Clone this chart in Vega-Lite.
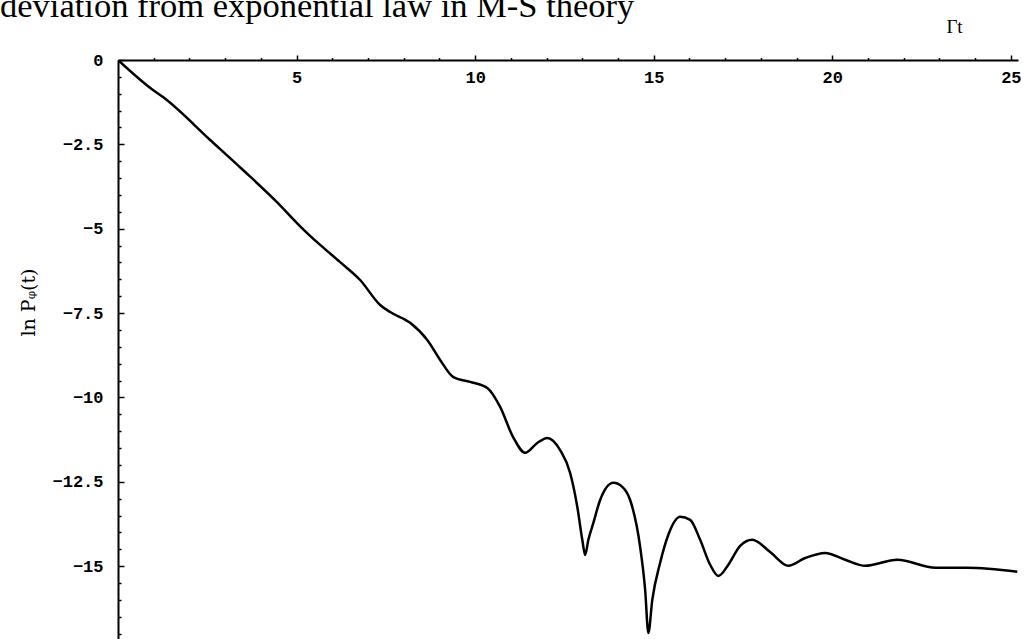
{
  "$schema": "https://vega.github.io/schema/vega-lite/v6.json",
  "width": 900,
  "height": 579,
  "autosize": {"type": "none"},
  "padding": {"left": 118, "top": 60, "right": 14, "bottom": 0},
  "background": "white",
  "title": {
    "text": "deviation from exponential law in M-S theory",
    "anchor": "start",
    "frame": "group",
    "dx": -118,
    "dy": 34,
    "offset": 0,
    "baseline": "alphabetic",
    "font": "Liberation Serif",
    "fontSize": 34.5,
    "fontWeight": "normal",
    "color": "black"
  },
  "config": {
    "view": {"stroke": null},
    "axis": {
      "grid": false,
      "domainColor": "black",
      "domainWidth": 2,
      "tickColor": "black",
      "tickWidth": 1.5,
      "labelColor": "black",
      "labelFont": "Liberation Mono",
      "labelFontWeight": "bold",
      "labelFontSize": 17,
      "labelOverlap": false,
      "titleColor": "black"
    }
  },
  "data": {
    "values": [
      {"t": 0, "y": 0},
      {"t": 0.98, "y": -0.89},
      {"t": 1.26, "y": -1.1},
      {"t": 2.58, "y": -2.37},
      {"t": 3.5, "y": -3.26},
      {"t": 4.45, "y": -4.21},
      {"t": 5.15, "y": -4.98},
      {"t": 5.66, "y": -5.48},
      {"t": 6.22, "y": -5.99},
      {"t": 6.78, "y": -6.52},
      {"t": 7.34, "y": -7.26},
      {"t": 7.62, "y": -7.47},
      {"t": 8.18, "y": -7.79},
      {"t": 8.66, "y": -8.3},
      {"t": 9.02, "y": -8.89},
      {"t": 9.38, "y": -9.39},
      {"t": 9.86, "y": -9.54},
      {"t": 10.34, "y": -9.72},
      {"t": 10.7, "y": -10.28},
      {"t": 11.06, "y": -11.17},
      {"t": 11.4, "y": -11.64},
      {"t": 11.74, "y": -11.35},
      {"t": 12.02, "y": -11.2},
      {"t": 12.38, "y": -11.56},
      {"t": 12.66, "y": -12.24},
      {"t": 12.86, "y": -13.24},
      {"t": 13.0, "y": -14.22},
      {"t": 13.08, "y": -14.67},
      {"t": 13.17, "y": -14.22},
      {"t": 13.31, "y": -13.72},
      {"t": 13.5, "y": -13.04},
      {"t": 13.87, "y": -12.53},
      {"t": 14.12, "y": -12.65},
      {"t": 14.34, "y": -13.04},
      {"t": 14.62, "y": -14.43},
      {"t": 14.76, "y": -15.7},
      {"t": 14.85, "y": -16.98},
      {"t": 14.96, "y": -16.0},
      {"t": 15.18, "y": -14.9},
      {"t": 15.41, "y": -14.07},
      {"t": 15.74, "y": -13.54},
      {"t": 16.02, "y": -13.63},
      {"t": 16.3, "y": -14.22},
      {"t": 16.58, "y": -14.96},
      {"t": 16.81, "y": -15.29},
      {"t": 17.09, "y": -14.96},
      {"t": 17.42, "y": -14.4},
      {"t": 17.76, "y": -14.22},
      {"t": 18.26, "y": -14.58},
      {"t": 18.77, "y": -14.99},
      {"t": 19.24, "y": -14.76},
      {"t": 19.8, "y": -14.61},
      {"t": 20.36, "y": -14.81},
      {"t": 20.92, "y": -14.99},
      {"t": 21.82, "y": -14.81},
      {"t": 22.89, "y": -15.05},
      {"t": 23.78, "y": -15.05},
      {"t": 25.18, "y": -15.17}
    ]
  },
  "mark": {"type": "line", "color": "black", "strokeWidth": 2.5, "interpolate": "monotone", "clip": true},
  "encoding": {
    "x": {
      "field": "t",
      "type": "quantitative",
      "scale": {"domain": [0, 25.2], "nice": false, "zero": false},
      "axis": {
        "orient": "top",
        "values": [1,2,3,4,5,6,7,8,9,10,11,12,13,14,15,16,17,18,19,20,21,22,23,24,25],
        "format": "~g",
        "tickSize": {"expr": "datum.value % 5 === 0 ? 5 : 2.5"},
        "labelExpr": "datum.value % 5 === 0 ? datum.label : ''",
        "labelPadding": -22,
        "labelBaseline": "middle",
        "labelAlign": "center",
        "title": "Γt",
        "titleFont": "Liberation Serif",
        "titleFontSize": 19,
        "titleFontWeight": "normal",
        "titleAlign": "center",
        "titleBaseline": "alphabetic",
        "titleX": 836,
        "titleY": -28
      }
    },
    "y": {
      "field": "y",
      "type": "quantitative",
      "scale": {"domain": [-17.16, 0], "nice": false, "zero": false},
      "axis": {
        "orient": "left",
        "values": [0,-0.5,-1,-1.5,-2,-2.5,-3,-3.5,-4,-4.5,-5,-5.5,-6,-6.5,-7,-7.5,-8,-8.5,-9,-9.5,-10,-10.5,-11,-11.5,-12,-12.5,-13,-13.5,-14,-14.5,-15,-15.5,-16,-16.5,-17],
        "format": "~g",
        "tickSize": {"expr": "abs(datum.value % 2.5) < 0.001 ? -6 : -3"},
        "labelExpr": "abs(datum.value % 2.5) < 0.001 ? datum.label : ''",
        "labelPadding": 21,
        "labelAlign": "right",
        "labelBaseline": "middle",
        "title": "ln Pᵩ(t)",
        "titleFont": "DejaVu Serif",
        "titleFontSize": 19,
        "titleFontWeight": "normal",
        "titleAngle": -90,
        "titleAlign": "center",
        "titleBaseline": "middle",
        "titleX": -90,
        "titleY": 242
      }
    }
  }
}
